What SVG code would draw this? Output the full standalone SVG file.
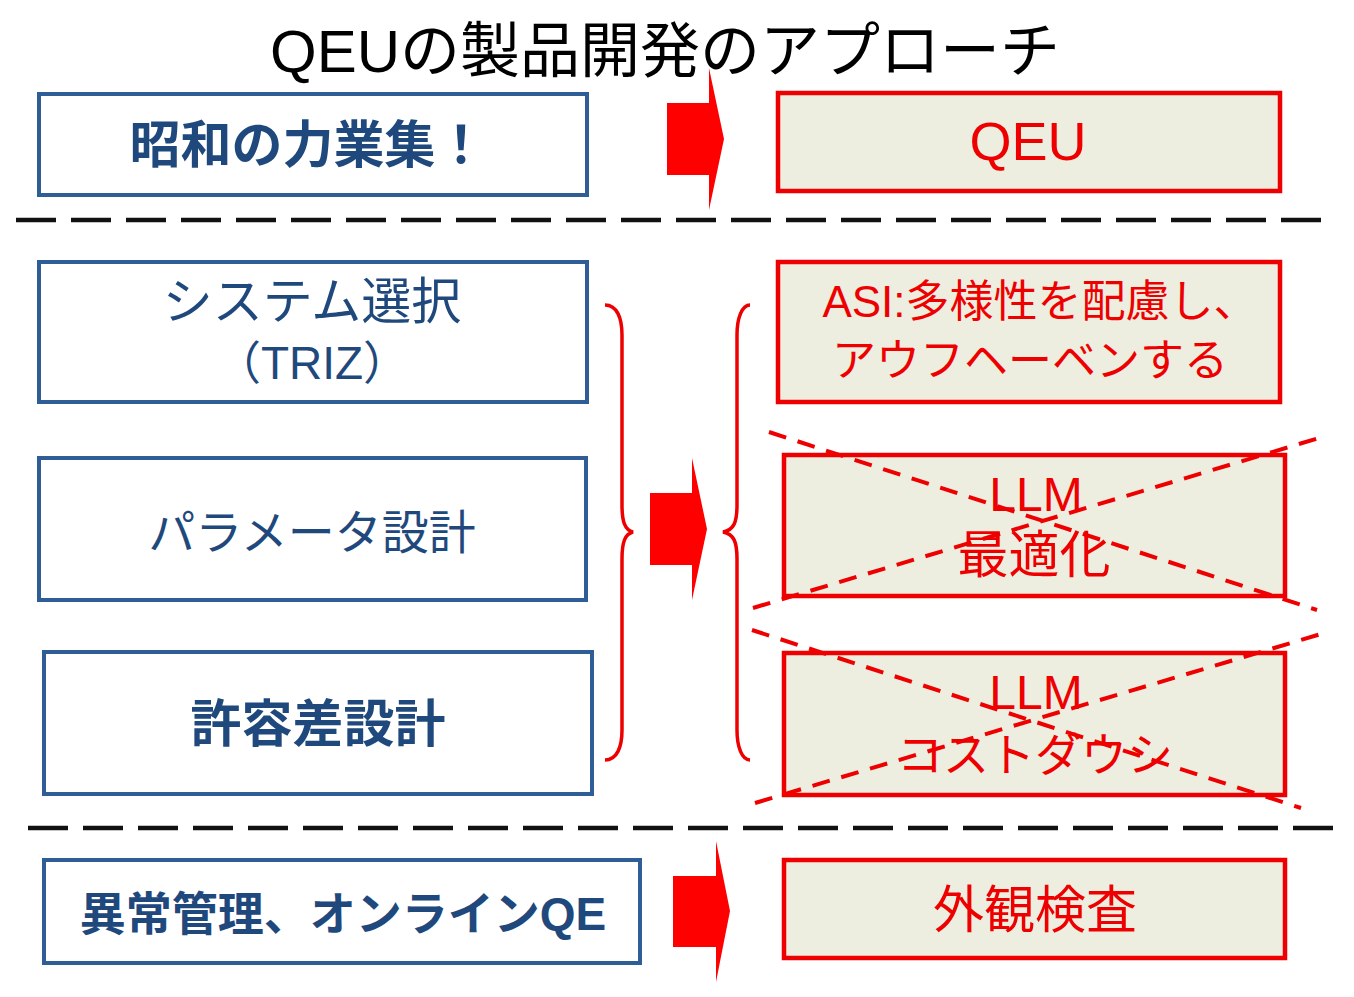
<svg xmlns="http://www.w3.org/2000/svg" width="1354" height="997" viewBox="0 0 1354 997">
<defs>
<style>
.bbox{fill:#ffffff;stroke:#2F5E96;stroke-width:4}
.rbox{fill:#EDEEE0;stroke:#EE0000;stroke-width:4.5}
.bt{fill:#1F497D;font-family:"Liberation Sans","Noto Sans CJK JP",sans-serif;text-anchor:middle}
.rt{fill:#EE0000;font-family:"Liberation Sans","Noto Sans CJK JP",sans-serif;text-anchor:middle}
.sep{stroke:#111111;stroke-width:4.5;stroke-dasharray:40 15;fill:none}
.cross{stroke:#EE0000;stroke-width:4;stroke-dasharray:18 12;fill:none}
.brace{stroke:#EE0000;stroke-width:3.5;fill:none}
.arrow{fill:#FF0000}
</style>
</defs>
<rect width="1354" height="997" fill="#ffffff"/>
<text x="665" y="72" font-family="Liberation Sans,'Noto Sans CJK JP',sans-serif" font-size="60" text-anchor="middle" fill="#000000">QEUの製品開発のアプローチ</text>

<g id="node-showa">
<rect class="bbox" x="39" y="94" width="548" height="101"/>
<text class="bt" x="308" y="163" font-weight="bold" font-size="51">昭和の力業集！</text>
</g>
<g id="node-qeu">
<rect class="rbox" x="778" y="93" width="502" height="98"/>
<text class="rt" x="1028" y="160" font-size="54">QEU</text>
</g>
<g id="node-system">
<rect class="bbox" x="39" y="262" width="548" height="140"/>
<text class="bt" x="312" y="319" font-size="50">システム選択</text>
<text class="bt" x="312" y="379" font-size="46">（TRIZ）</text>
</g>
<g id="node-param">
<rect class="bbox" x="39" y="458" width="547" height="142"/>
<text class="bt" x="312" y="549" font-size="47">パラメータ設計</text>
</g>
<g id="node-tolerance">
<rect class="bbox" x="44" y="652" width="548" height="142"/>
<text class="bt" x="318" y="742" font-weight="bold" font-size="51">許容差設計</text>
</g>
<g id="node-asi">
<rect class="rbox" x="778" y="262" width="502" height="140"/>
<text class="rt" x="1040" y="317" font-size="44">ASI:多様性を配慮し、</text>
<text class="rt" x="1030" y="376" font-size="44">アウフヘーベンする</text>
</g>
<g id="node-llm-opt">
<rect class="rbox" x="784" y="455" width="501" height="141"/>
<text class="rt" x="1036" y="511" font-size="48">LLM</text>
<text class="rt" x="1034" y="573" font-size="51">最適化</text>
</g>
<g id="node-llm-cost">
<rect class="rbox" x="784" y="653" width="501" height="142"/>
<text class="rt" x="1036" y="709" font-size="48">LLM</text>
<text class="rt" x="1035" y="771" font-size="46">コストダウシ</text>
</g>
<g id="node-anomaly">
<rect class="bbox" x="44" y="860" width="596" height="103"/>
<text class="bt" x="343" y="930" font-weight="bold" font-size="46">異常管理、オンラインQE</text>
</g>
<g id="node-inspection">
<rect class="rbox" x="784" y="860" width="501" height="98"/>
<text class="rt" x="1035" y="928" font-size="51">外観検査</text>
</g>

<g id="connectors">
<line class="sep" x1="16" y1="220" x2="1322" y2="220"/>
<line class="sep" x1="28" y1="828" x2="1335" y2="828"/>
<polygon class="arrow" points="667,103 709,103 709,68 724,139 709,210 709,175 667,175"/>
<polygon class="arrow" points="650,493 692,493 692,458 707,529 692,600 692,565 650,565"/>
<polygon class="arrow" points="673,876 716,876 716,841 730,911 716,982 716,947 673,947"/>
<path class="brace" d="M605,305 C617,305 622,318 622,335 L622,505 C622,522 625,530 633,532 C625,534 622,542 622,559 L622,730 C622,747 617,760 605,760"/>
<path class="brace" d="M750,305 C742,305 737,318 737,335 L737,505 C737,522 734,530 723,532 C734,534 737,542 737,559 L737,730 C737,747 742,760 750,760"/>
<line class="cross" x1="769" y1="432" x2="1317" y2="610"/>
<line class="cross" x1="753" y1="608" x2="1319" y2="438"/>
<line class="cross" x1="752" y1="630" x2="1301" y2="808"/>
<line class="cross" x1="755" y1="803" x2="1321" y2="634"/>
</g>
</svg>
